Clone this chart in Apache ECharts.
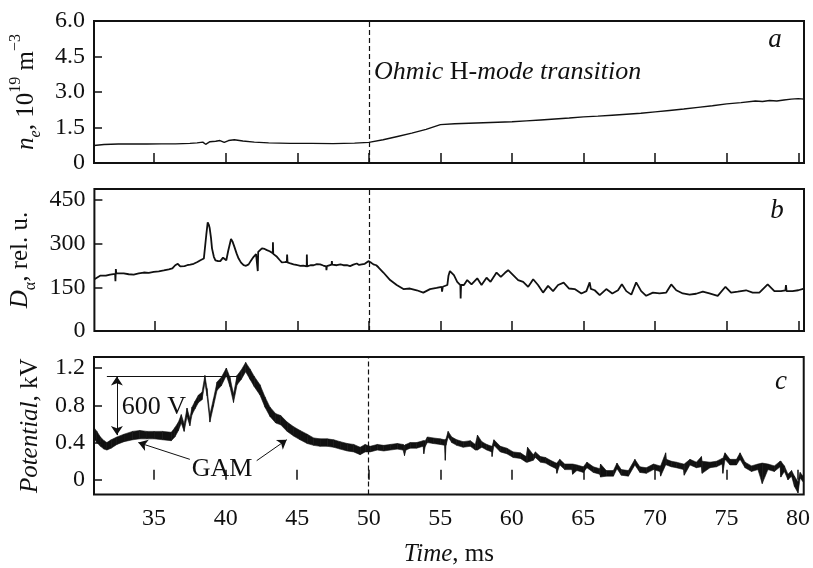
<!DOCTYPE html>
<html>
<head>
<meta charset="utf-8">
<script src="https://cdn.jsdelivr.net/npm/echarts@6/dist/echarts.min.js"></script>
<style>
  html, body { margin: 0; background: #fff; }
  #chart { width: 813px; height: 568px; }
</style>
</head>
<body>
<div id="chart"></div>
<script>
const timeTicks = [35, 40, 45, 50, 55, 60, 65, 70, 75, 80];
const densityTicks = [0, 1.5, 3, 4.5, 6];
const dalphaTicks = [0, 150, 300, 450];
const potentialTicks = [0, 0.4, 0.8, 1.2];
const transitionTime = 50;

// n_e, 10^19 m^-3  [time ms, value]
const density = [
  [30.8, 0.74], [31.5, 0.78], [32.5, 0.8], [33.5, 0.8], [34.5, 0.8], [35.5, 0.81], [36.5, 0.81],
  [37.5, 0.83], [38.0, 0.85], [38.4, 0.88], [38.6, 0.79], [38.9, 0.9], [39.3, 0.92], [39.6, 0.95],
  [39.9, 0.87], [40.2, 0.95], [40.6, 0.98], [41.2, 0.93], [42, 0.88], [43, 0.85], [44.5, 0.83],
  [46, 0.83], [47.5, 0.82], [49, 0.84], [50, 0.87], [51, 0.98], [52, 1.12], [53, 1.26], [54, 1.42],
  [55, 1.62], [56, 1.66], [57, 1.68], [58, 1.7], [59, 1.72], [60, 1.74], [61, 1.78], [62, 1.82],
  [63, 1.86], [64, 1.9], [65, 1.95], [66, 1.98], [67, 2.02], [68, 2.06], [69, 2.1], [70, 2.16],
  [71, 2.22], [72, 2.28], [73, 2.35], [74, 2.42], [75, 2.5], [76, 2.55], [77, 2.62], [77.5, 2.6],
  [78, 2.64], [78.5, 2.62], [79, 2.66], [79.5, 2.7], [80, 2.72], [80.4, 2.7]
];

// D_alpha, rel. u.  [time ms, value]
const dalpha = [
  [30.8, 178], [31.2, 190], [31.6, 190], [31.9, 194], [32.25, 196], [32.27, 171], [32.3, 213], [32.33, 198],
  [32.85, 198], [33.2, 195], [33.55, 194], [33.9, 198], [34.25, 201], [34.6, 200], [34.95, 203], [35.3, 205],
  [35.65, 208], [36.0, 212], [36.25, 215], [36.45, 226], [36.63, 231], [36.8, 222], [36.93, 217], [37.1, 223],
  [37.28, 226], [37.5, 228], [37.74, 231], [38.0, 237], [38.21, 243], [38.45, 249], [38.56, 249], [38.62, 330],
  [38.72, 373], [38.8, 365], [38.86, 353], [38.95, 320], [39.02, 284], [39.15, 255], [39.26, 243], [39.45, 240],
  [39.6, 240], [39.79, 252], [39.9, 246], [40.02, 243], [40.15, 275], [40.35, 316], [40.45, 308], [40.58, 290],
  [40.75, 265], [40.88, 249], [41.05, 235], [41.23, 226], [41.4, 224], [41.58, 229], [41.75, 242], [41.93, 255],
  [42.1, 264], [42.2, 268], [42.22, 206], [42.25, 272], [42.51, 284], [42.7, 282], [42.86, 278], [43.05, 274],
  [43.27, 267], [43.28, 305], [43.3, 265], [43.56, 255], [43.75, 244], [43.9, 236], [43.92, 240], [44.1, 237],
  [44.25, 238], [44.27, 263], [44.3, 236], [44.5, 232], [44.72, 229], [45.0, 226], [45.19, 224], [45.4, 225],
  [45.64, 222], [45.65, 263], [45.67, 222], [45.9, 226], [46.12, 226], [46.35, 230], [46.58, 229], [46.8, 225],
  [47.0, 222], [47.02, 209], [47.05, 223], [47.38, 228], [47.4, 240], [47.42, 228], [47.74, 226], [48.0, 229],
  [48.21, 226], [48.45, 226], [48.67, 223], [48.9, 228], [49.14, 232], [49.3, 227], [49.49, 229], [49.7, 231],
  [49.95, 240], [50.1, 236], [50.3, 229], [50.5, 226], [50.65, 219], [51.0, 201], [51.47, 175], [51.93, 158],
  [52.4, 144], [52.86, 146], [53.33, 140], [53.79, 132], [54.26, 144], [54.72, 148], [55.07, 152], [55.1, 135],
  [55.15, 152], [55.47, 158], [55.55, 190], [55.65, 206], [55.78, 200], [55.93, 192], [56.16, 169], [56.38, 158],
  [56.4, 112], [56.43, 158], [56.63, 158], [56.86, 175], [57.16, 160], [57.56, 181], [57.86, 158], [58.21, 183],
  [58.49, 169], [58.91, 201], [59.21, 186], [59.5, 200], [59.72, 209], [60.07, 192], [60.42, 175], [60.77, 169],
  [61.12, 152], [61.3, 165], [61.47, 178], [61.81, 158], [62.16, 132], [62.51, 155], [62.86, 137], [63.21, 158],
  [63.6, 166], [63.98, 146], [64.37, 144], [64.84, 129], [65.19, 137], [65.42, 167], [65.5, 145], [65.77, 140],
  [66.12, 123], [66.58, 144], [67.0, 129], [67.4, 140], [67.67, 161], [67.98, 137], [68.33, 125], [68.67, 167],
  [69.02, 137], [69.37, 121], [69.84, 132], [70.3, 129], [70.77, 132], [71.12, 160], [71.47, 140], [71.93, 129],
  [72.4, 125], [72.86, 128], [73.33, 135], [73.79, 129], [74.37, 121], [74.91, 152], [75.3, 132], [75.77, 135],
  [76.35, 140], [76.81, 132], [77.28, 132], [77.86, 160], [78.33, 137], [78.79, 137], [79.1, 140], [79.14, 158],
  [79.18, 137], [79.6, 137], [80.0, 140], [80.4, 146]
];

// Potential, kV: noisy trace as [time ms, low edge, high edge]
const potentialBand = [
  [30.8, 0.44, 0.56], [31.0, 0.4, 0.52], [31.25, 0.36, 0.46], [31.5, 0.33, 0.42], [31.7, 0.32, 0.4],
  [32.0, 0.34, 0.43], [32.4, 0.38, 0.46], [32.9, 0.41, 0.49], [33.5, 0.43, 0.52], [34.0, 0.44, 0.53],
  [34.5, 0.44, 0.52], [35.0, 0.44, 0.52], [35.6, 0.43, 0.52], [36.2, 0.42, 0.51], [36.45, 0.46, 0.56],
  [36.7, 0.53, 0.62], [36.9, 0.61, 0.7], [37.1, 0.52, 0.6], [37.3, 0.68, 0.77], [37.5, 0.58, 0.66],
  [37.65, 0.7, 0.78], [37.85, 0.76, 0.84], [38.1, 0.83, 0.91], [38.35, 0.86, 0.94], [38.55, 1.04, 1.12],
  [38.7, 0.9, 0.98], [38.9, 0.62, 0.7], [39.15, 0.79, 0.87], [39.4, 0.96, 1.05], [39.7, 1.01, 1.1],
  [40.05, 1.12, 1.2], [40.3, 1.0, 1.1], [40.55, 0.83, 0.92], [40.8, 1.02, 1.12], [41.1, 1.08, 1.18],
  [41.4, 1.16, 1.26], [41.7, 1.08, 1.19], [42.0, 1.0, 1.11], [42.4, 0.91, 1.02], [42.75, 0.78, 0.89],
  [43.1, 0.68, 0.78], [43.5, 0.61, 0.71], [43.85, 0.59, 0.69], [44.3, 0.52, 0.62], [44.75, 0.47, 0.57],
  [45.2, 0.43, 0.53], [45.7, 0.39, 0.49], [46.15, 0.37, 0.45], [46.6, 0.36, 0.44], [47.1, 0.36, 0.44],
  [47.55, 0.35, 0.43], [48.0, 0.33, 0.41], [48.5, 0.31, 0.39], [48.95, 0.3, 0.38], [49.4, 0.27, 0.35],
  [49.75, 0.3, 0.38], [50.1, 0.3, 0.36], [50.6, 0.32, 0.38], [51.05, 0.31, 0.37], [51.5, 0.32, 0.38],
  [52.0, 0.33, 0.39], [52.4, 0.32, 0.38], [52.5, 0.26, 0.37], [52.6, 0.32, 0.38], [52.9, 0.34, 0.4],
  [53.35, 0.34, 0.4], [53.8, 0.36, 0.42], [53.85, 0.28, 0.42], [53.95, 0.36, 0.42], [54.1, 0.4, 0.46],
  [54.5, 0.39, 0.45], [55.0, 0.38, 0.44], [55.3, 0.37, 0.43], [55.35, 0.21, 0.43], [55.4, 0.37, 0.44],
  [55.55, 0.46, 0.52], [55.8, 0.4, 0.46], [56.15, 0.37, 0.43], [56.6, 0.35, 0.41], [57.1, 0.36, 0.42],
  [57.45, 0.32, 0.38], [57.6, 0.32, 0.48], [57.9, 0.35, 0.41], [58.25, 0.32, 0.38], [58.6, 0.3, 0.36],
  [58.62, 0.25, 0.36], [58.75, 0.37, 0.43], [59.2, 0.3, 0.36], [59.65, 0.28, 0.34], [60.1, 0.24, 0.3],
  [60.6, 0.23, 0.29], [61.0, 0.19, 0.25], [61.1, 0.19, 0.35], [61.5, 0.21, 0.27], [61.65, 0.24, 0.3],
  [62.0, 0.19, 0.25], [62.35, 0.18, 0.24], [62.7, 0.15, 0.21], [63.1, 0.12, 0.18], [63.15, 0.07, 0.18],
  [63.35, 0.16, 0.22], [63.7, 0.11, 0.17], [64.2, 0.11, 0.17], [64.25, 0.06, 0.17], [64.55, 0.1, 0.16],
  [65.0, 0.08, 0.14], [65.25, 0.13, 0.19], [65.7, 0.08, 0.14], [66.15, 0.06, 0.12], [66.2, 0.03, 0.17],
  [66.6, 0.04, 0.1], [67.1, 0.04, 0.1], [67.35, 0.12, 0.18], [67.65, 0.05, 0.11], [68.15, 0.04, 0.1],
  [68.6, 0.16, 0.22], [68.95, 0.08, 0.14], [69.4, 0.07, 0.13], [69.9, 0.11, 0.17], [70.35, 0.09, 0.15],
  [70.4, 0.04, 0.15], [70.75, 0.16, 0.29], [70.8, 0.16, 0.22], [71.15, 0.14, 0.2], [71.5, 0.13, 0.19],
  [72.0, 0.11, 0.17], [72.05, 0.05, 0.17], [72.45, 0.16, 0.22], [72.9, 0.13, 0.19], [73.25, 0.14, 0.25],
  [73.3, 0.07, 0.2], [73.85, 0.13, 0.19], [74.3, 0.14, 0.2], [74.7, 0.17, 0.23], [74.75, 0.07, 0.23],
  [74.9, 0.22, 0.29], [75.25, 0.16, 0.22], [75.7, 0.16, 0.22], [75.95, 0.22, 0.29], [76.3, 0.13, 0.19],
  [76.75, 0.09, 0.15], [77.2, 0.11, 0.17], [77.5, -0.04, 0.18], [77.9, 0.11, 0.17], [78.35, 0.09, 0.15],
  [78.75, 0.14, 0.2], [78.8, 0.03, 0.2], [79.05, 0.09, 0.15], [79.3, 0.0, 0.06], [79.55, 0.04, 0.1],
  [79.75, -0.07, 0.04], [80.0, -0.14, -0.02], [80.15, 0.02, 0.08], [80.4, -0.03, 0.03]
];

const serif = "Liberation Serif";
const ink = "#111";

const chart = echarts.init(document.getElementById("chart"), null, { renderer: "canvas" });

const grids = [
  { left: 94, right: 9, top: 21, height: 142 },
  { left: 94, right: 9, top: 189, height: 142 },
  { left: 94, right: 9, top: 357, height: 141 },
].map((g) => ({ ...g, show: true, borderColor: ink, borderWidth: 2, backgroundColor: "transparent" }));

const nameRich = {
  i: { fontFamily: serif, fontSize: 25, fontStyle: "italic", color: ink, lineHeight: 36 },
  r: { fontFamily: serif, fontSize: 25, color: ink, lineHeight: 36 },
  sub: { fontFamily: serif, fontSize: 16, fontStyle: "italic", color: ink, lineHeight: 22, verticalAlign: "bottom" },
  subr: { fontFamily: serif, fontSize: 16, color: ink, lineHeight: 22, verticalAlign: "bottom" },
  sup: { fontFamily: serif, fontSize: 16, color: ink, lineHeight: 16, verticalAlign: "top" },
};

function xAxis(i) {
  const last = i === 2;
  return {
    type: "value",
    gridIndex: i,
    min: 30.8,
    max: 80.4,
    axisLine: { show: false },
    axisTick: { show: true, inside: true, length: 10, customValues: timeTicks, lineStyle: { color: ink, width: 1.5 } },
    axisLabel: { show: last, customValues: timeTicks, margin: 12, fontFamily: serif, fontSize: 24, color: ink },
    splitLine: { show: false },
    name: last ? "{i|Time}{r|, ms}" : "",
    nameLocation: "middle",
    nameGap: 42,
    nameTextStyle: { rich: nameRich },
  };
}

function yAxis(i, min, max, ticks, fmt, name) {
  return {
    type: "value",
    gridIndex: i,
    min,
    max,
    axisLine: { show: false },
    axisTick: { show: true, inside: true, length: 8, customValues: ticks, lineStyle: { color: ink, width: 1.5 } },
    axisLabel: { customValues: ticks, margin: 9, fontFamily: serif, fontSize: 24, color: ink, formatter: fmt },
    splitLine: { show: false },
    name,
    nameLocation: "middle",
    nameRotate: 90,
    nameGap: 46,
    nameTextStyle: { rich: nameRich },
  };
}

const oneDecimal = (v) => (v === 0 ? "0" : v.toFixed(1));

const transitionLine = {
  silent: true,
  symbol: "none",
  label: { show: false },
  lineStyle: { color: ink, type: [5, 3], width: 1.2 },
  data: [{ xAxis: transitionTime }],
};

const annotationStyle = { color: ink, type: "solid", width: 1 };

// each band piece joins one reading to the next one
const bandPieces = potentialBand.slice(0, -1).map((r, i) => {
  const n = potentialBand[i + 1];
  return [r[0], r[1], r[2], n[0], n[1], n[2]];
});

function renderBand(params, api) {
  const p1 = api.coord([api.value(0), api.value(1)]);
  const p2 = api.coord([api.value(0), api.value(2)]);
  const p3 = api.coord([api.value(3), api.value(5)]);
  const p4 = api.coord([api.value(3), api.value(4)]);
  return {
    type: "polygon",
    shape: { points: [p1, p2, p3, p4] },
    style: { fill: ink, stroke: ink, lineWidth: 0.6 },
  };
}

chart.setOption({
  animation: false,
  backgroundColor: "#fff",
  grid: grids,
  xAxis: [xAxis(0), xAxis(1), xAxis(2)],
  yAxis: [
    yAxis(0, 0, 6, densityTicks, oneDecimal, "{i|n}{sub|e}{r|, 10}{sup|19}{r| m}{sup|−3}"),
    yAxis(1, 0, 488, dalphaTicks, (v) => String(v), "{i|D}{subr|α}{r|, rel. u.}"),
    yAxis(2, -0.157, 1.318, potentialTicks, oneDecimal, "{i|Potential}{r|, kV}"),
  ],
  series: [
    {
      type: "line",
      xAxisIndex: 0,
      yAxisIndex: 0,
      data: density,
      symbol: "none",
      lineStyle: { color: ink, width: 1.4 },
      markLine: transitionLine,
    },
    {
      type: "line",
      xAxisIndex: 1,
      yAxisIndex: 1,
      data: dalpha,
      symbol: "none",
      lineStyle: { color: ink, width: 1.8 },
      markLine: transitionLine,
    },
    {
      type: "custom",
      xAxisIndex: 2,
      yAxisIndex: 2,
      data: bandPieces,
      encode: { x: [0, 3], y: [1, 2, 4, 5] },
      renderItem: renderBand,
      clip: true,
      silent: true,
    },
    {
      type: "line",
      xAxisIndex: 2,
      yAxisIndex: 2,
      data: potentialBand.map((r) => [r[0], r[1]]),
      symbol: "none",
      silent: true,
      lineStyle: { width: 0, opacity: 0 },
      markLine: {
        silent: true,
        label: { show: false },
        symbolSize: 9,
        lineStyle: annotationStyle,
        data: [
          [{ coord: [transitionTime, -0.157], symbol: "none", lineStyle: { type: [5, 3], width: 1.2 } }, { coord: [transitionTime, 1.318], symbol: "none" }],
          [{ coord: [31.7, 1.11], symbol: "none" }, { coord: [40.8, 1.11], symbol: "none" }],
          [{ coord: [32.4, 1.11], symbol: "arrow" }, { coord: [32.4, 0.48], symbol: "arrow" }],
          [{ coord: [37.5, 0.22], symbol: "none" }, { coord: [33.9, 0.4], symbol: "arrow" }],
          [{ coord: [42.17, 0.206], symbol: "none" }, { coord: [44.27, 0.431], symbol: "arrow" }],
        ],
      },
    },
  ],
  graphic: [
    {
      type: "text",
      x: 374,
      y: 72,
      style: {
        text: "{i|Ohmic }{r|H}{i|-mode transition}",
        verticalAlign: "middle",
        rich: {
          i: { fontFamily: serif, fontSize: 26, fontStyle: "italic", fill: ink },
          r: { fontFamily: serif, fontSize: 26, fill: ink },
        },
      },
    },
    { type: "text", x: 775, y: 40, style: { text: "a", fontFamily: serif, fontSize: 27, fontStyle: "italic", fill: ink, align: "center", verticalAlign: "middle" } },
    { type: "text", x: 777, y: 211, style: { text: "b", fontFamily: serif, fontSize: 27, fontStyle: "italic", fill: ink, align: "center", verticalAlign: "middle" } },
    { type: "text", x: 781, y: 382, style: { text: "c", fontFamily: serif, fontSize: 27, fontStyle: "italic", fill: ink, align: "center", verticalAlign: "middle" } },
    { type: "text", x: 154, y: 407, style: { text: "600 V", fontFamily: serif, fontSize: 26, fill: ink, align: "center", verticalAlign: "middle" } },
    { type: "text", x: 222, y: 469, style: { text: "GAM", fontFamily: serif, fontSize: 26, fill: ink, align: "center", verticalAlign: "middle" } },
  ],
});
</script>
</body>
</html>
